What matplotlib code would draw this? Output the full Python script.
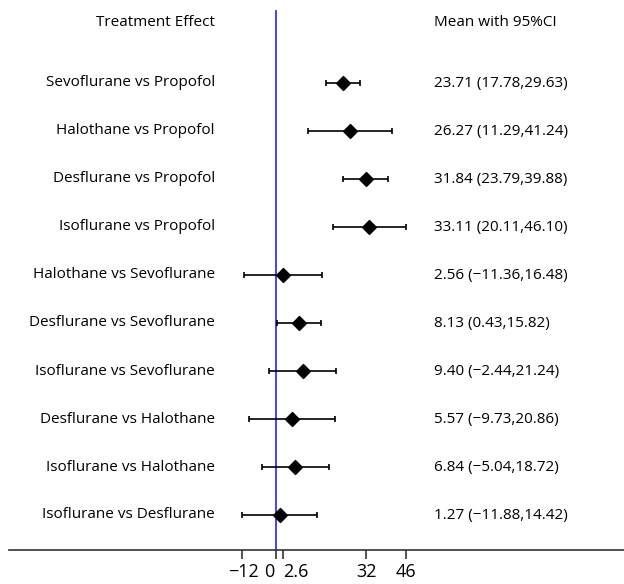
import matplotlib
matplotlib.use("Agg")
import matplotlib.pyplot as plt
from matplotlib.transforms import ScaledTranslation

comparisons = ["Sevoflurane vs Propofol", "Halothane vs Propofol", "Desflurane vs Propofol",
               "Isoflurane vs Propofol", "Halothane vs Sevoflurane", "Desflurane vs Sevoflurane",
               "Isoflurane vs Sevoflurane", "Desflurane vs Halothane", "Isoflurane vs Halothane",
               "Isoflurane vs Desflurane"]
means = [23.71, 26.27, 31.84, 33.11, 2.56, 8.13, 9.40, 5.57, 6.84, 1.27]
lower = [17.78, 11.29, 23.79, 20.11, -11.36, 0.43, -2.44, -9.73, -5.04, -11.88]
upper = [29.63, 41.24, 39.88, 46.10, 16.48, 15.82, 21.24, 20.86, 18.72, 14.42]
xticks = [-12, 0, 2.6, 32, 46]
xticklabels = ["\u221212", "0", "2.6", "32", "46"]

plt.rcParams['font.family'] = ['Open Sans', 'DejaVu Sans']

W, H = 624, 584
fig = plt.figure(figsize=(W / 100, H / 100), dpi=100)
ax_left, ax_right, ax_bottom = 9, 624, 550
ax = fig.add_axes([ax_left / W, (H - ax_bottom) / H, (ax_right - ax_left) / W, ax_bottom / H])

pxu = 2.82
x0 = 276
ax.set_xlim((ax_left - x0) / pxu, (ax_right - x0) / pxu)
row0, step = 83, 48
ax.set_ylim((ax_bottom - row0) / step, -row0 / step)

ys = list(range(len(comparisons)))
ax.plot([0, 0], [(11 - row0) / step, (ax_bottom - row0) / step], color='#3333ff', lw=1.3, zorder=1)

errl = [m - l for m, l in zip(means, lower)]
erru = [u - m for m, u in zip(means, upper)]
ax.errorbar(means, ys, xerr=[errl, erru], fmt='none', ecolor='black', elinewidth=1.2,
            capsize=2.5, capthick=1.2, zorder=2)
ax.scatter(means, ys, marker='D', s=50, color='black', zorder=3)

lab_x = (215 - x0) / pxu
ci_x = (434 - x0) / pxu


def f(v):
    return f"{v:.2f}".replace("-", "\u2212")


FS = 11
for y, c, m, l, u in zip(ys, comparisons, means, lower, upper):
    ax.text(lab_x, y, c, ha='right', va='center', fontsize=FS)
    ax.text(ci_x, y, f"{f(m)} ({f(l)},{f(u)})", ha='left', va='center', fontsize=FS)

hy = (23 - row0) / step
ax.text(lab_x, hy, "Treatment Effect", ha='right', va='center', fontsize=FS)
ax.text(ci_x, hy, "Mean with 95%CI", ha='left', va='center', fontsize=FS)

for s in ['top', 'right', 'left']:
    ax.spines[s].set_visible(False)
ax.spines['bottom'].set_color('#333333')
ax.spines['bottom'].set_linewidth(1.2)
ax.set_yticks([])
ax.set_xticks(xticks)
ax.set_xticklabels(xticklabels, fontsize=13)
ax.tick_params(axis='x', length=6.5, width=1.2, color='#333333', pad=3)
ax.patch.set_alpha(0)

labels = ax.get_xticklabels()
labels[1].set_horizontalalignment('right')
labels[1].set_transform(labels[1].get_transform() + ScaledTranslation(-2 / 100, 0, fig.dpi_scale_trans))
labels[2].set_horizontalalignment('left')
labels[2].set_transform(labels[2].get_transform() + ScaledTranslation(0 / 100, 0, fig.dpi_scale_trans))
labels[0].set_transform(labels[0].get_transform() + ScaledTranslation(1 / 100, 0, fig.dpi_scale_trans))

fig.savefig("out.png", dpi=100)
